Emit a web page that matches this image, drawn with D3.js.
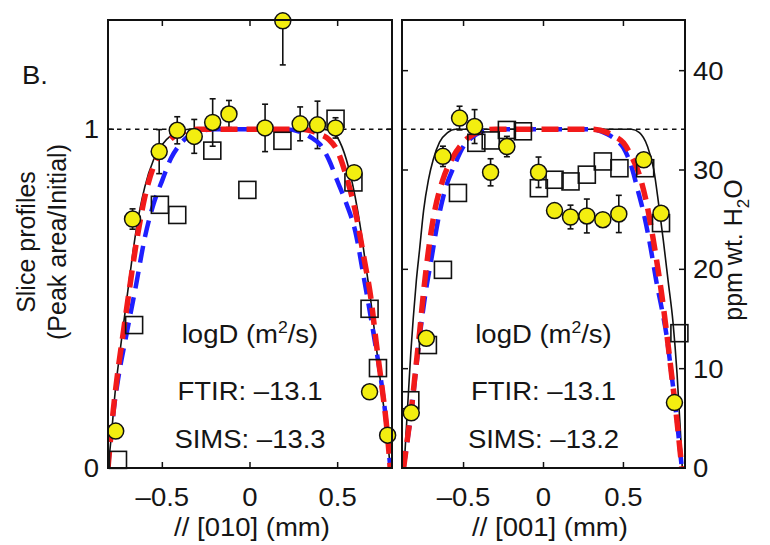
<!DOCTYPE html>
<html>
<head>
<meta charset="utf-8">
<script src="https://cdn.jsdelivr.net/npm/d3@7"></script>
<style>
  body { margin: 0; background: #fff; }
  text { font-family: "Liberation Sans", Arial, Helvetica, sans-serif; fill: #151515; }
</style>
</head>
<body>
<svg id="chart" width="770" height="545"></svg>
<script>
// ---------- tick labels ----------
const xTickValues = [-0.5, 0, 0.5];
const normTickValues = [0, 1];
const ppmTickValues = [0, 10, 20, 30, 40];

// ---------- slice // [010] ----------
const ftirX010 = [-0.766, -0.67, -0.518, -0.415, -0.318, -0.213, -0.12, 0.086, 0.187, 0.286, 0.385, 0.488, 0.594, 0.682, 0.785];
const ftirV010 = [0.109, 0.735, 0.934, 0.997, 0.979, 1.02, 1.045, 1.004, 1.32, 1.016, 1.013, 1.004, 0.872, 0.225, 0.097];
const ftirErr010 = [0, 0.03, 0.065, 0.04, 0.05, 0.07, 0.04, 0.07, 0.13, 0.05, 0.07, 0.03, 0, 0, 0];
const simsX010 = [-0.753, -0.661, -0.514, -0.415, -0.215, -0.015, 0.185, 0.488, 0.59, 0.682, 0.73];
const simsV010 = [0.024, 0.422, 0.777, 0.747, 0.937, 0.821, 0.966, 1.031, 0.843, 0.47, 0.295];

const fitBlackX010 = [-0.81, -0.79, -0.77, -0.745, -0.72, -0.69, -0.65, -0.6, -0.55, -0.5, -0.45, -0.4, -0.35, 0.4, 0.45, 0.5, 0.55, 0.6, 0.63, 0.66, 0.69, 0.72, 0.75, 0.78, 0.80];
const fitBlackV010 = [0, 0.10, 0.22, 0.33, 0.43, 0.55, 0.70, 0.83, 0.91, 0.955, 0.982, 0.995, 1, 1, 0.997, 0.975, 0.91, 0.80, 0.71, 0.60, 0.49, 0.36, 0.23, 0.11, 0];
const fitRedX010 = [-0.81, -0.78, -0.75, -0.72, -0.69, -0.65, -0.6, -0.55, -0.5, -0.45, -0.4, -0.35, -0.3, 0.3, 0.35, 0.4, 0.45, 0.5, 0.55, 0.6, 0.65, 0.69, 0.72, 0.75, 0.78, 0.80];
const fitRedV010 = [0, 0.17, 0.30, 0.41, 0.52, 0.66, 0.80, 0.89, 0.94, 0.972, 0.988, 0.997, 1, 1, 0.995, 0.985, 0.97, 0.935, 0.86, 0.76, 0.62, 0.50, 0.37, 0.25, 0.12, 0];
const fitBlueX010 = [-0.81, -0.78, -0.75, -0.71, -0.65, -0.6, -0.55, -0.5, -0.45, -0.4, -0.35, -0.3, -0.2, 0.2, 0.3, 0.35, 0.4, 0.45, 0.5, 0.55, 0.6, 0.65, 0.71, 0.75, 0.78, 0.80];
const fitBlueV010 = [0, 0.16, 0.27, 0.38, 0.54, 0.68, 0.78, 0.85, 0.915, 0.955, 0.98, 0.993, 1, 1, 0.99, 0.975, 0.955, 0.91, 0.845, 0.78, 0.70, 0.56, 0.38, 0.25, 0.12, 0];

// ---------- slice // [001] ----------
const ftirX001 = [-0.827, -0.733, -0.629, -0.525, -0.431, -0.331, -0.229, -0.031, 0.069, 0.169, 0.271, 0.371, 0.471, 0.627, 0.735, 0.819];
const ftirV001 = [0.163, 0.383, 0.92, 1.033, 1.008, 0.873, 0.949, 0.873, 0.76, 0.741, 0.744, 0.733, 0.75, 0.91, 0.752, 0.193];
const ftirErr001 = [0, 0, 0.03, 0.035, 0.05, 0.04, 0.03, 0.045, 0, 0.035, 0.05, 0, 0.055, 0, 0, 0];
const simsX001 = [-0.833, -0.723, -0.629, -0.535, -0.42, -0.33, -0.229, -0.129, -0.029, 0.069, 0.169, 0.271, 0.371, 0.475, 0.636, 0.735, 0.85];
const simsV001 = [0.2, 0.363, 0.585, 0.812, 0.96, 0.967, 0.998, 0.994, 0.826, 0.851, 0.846, 0.866, 0.905, 0.885, 0.885, 0.723, 0.398];

const fitBlackX001 = [-0.872, -0.86, -0.845, -0.83, -0.815, -0.795, -0.775, -0.75, -0.72, -0.69, -0.65, -0.6, -0.55, 0.55, 0.6, 0.65, 0.69, 0.72, 0.75, 0.78, 0.81, 0.835, 0.855, 0.868];
const fitBlackV001 = [0, 0.10, 0.22, 0.34, 0.44, 0.555, 0.645, 0.76, 0.85, 0.91, 0.962, 0.99, 1, 1, 0.99, 0.95, 0.88, 0.78, 0.67, 0.55, 0.43, 0.28, 0.12, 0];
const fitRedX001 = [-0.875, -0.85, -0.825, -0.8, -0.775, -0.75, -0.72, -0.68, -0.63, -0.57, -0.5, -0.45, -0.4, -0.3, 0.3, 0.4, 0.45, 0.5, 0.55, 0.6, 0.65, 0.7, 0.74, 0.77, 0.8, 0.83, 0.865];
const fitRedV001 = [0, 0.09, 0.18, 0.29, 0.40, 0.52, 0.64, 0.76, 0.85, 0.915, 0.962, 0.982, 0.993, 1, 1, 0.99, 0.978, 0.96, 0.92, 0.865, 0.77, 0.635, 0.51, 0.40, 0.28, 0.16, 0];
const fitBlueX001 = [-0.875, -0.85, -0.825, -0.8, -0.775, -0.74, -0.7, -0.66, -0.61, -0.56, -0.5, -0.45, -0.4, -0.3, 0.3, 0.4, 0.45, 0.5, 0.55, 0.59, 0.63, 0.67, 0.71, 0.74, 0.77, 0.8, 0.83, 0.865];
const fitBlueV001 = [0, 0.085, 0.17, 0.28, 0.385, 0.51, 0.62, 0.73, 0.83, 0.89, 0.95, 0.975, 0.99, 1, 1, 0.985, 0.97, 0.945, 0.89, 0.82, 0.745, 0.65, 0.54, 0.47, 0.39, 0.28, 0.16, 0];

// ---------- annotations ----------
const axisTitles = ["// [010] (mm)", "// [001] (mm)"];
const ftirLogD = ["\u201313.1", "\u201313.1"];
const simsLogD = ["\u201313.3", "\u201313.2"];

// ---------- layout ----------
const svg = d3.select("#chart");
const plotTop = 20, plotBottom = 468;
const ppmMax = 45.1, ppmAtOne = 34.1;
const yNorm = d3.scaleLinear().domain([0, ppmMax / ppmAtOne]).range([plotBottom, plotTop]);
const yPpm = d3.scaleLinear().domain([0, ppmMax]).range([plotBottom, plotTop]);
const textStretch = 1.1;

const panels = [
  { id: "p010", left: 108, right: 392, half: 0.81, title: axisTitles[0], titleX: 252,
    ftir: { x: ftirX010, v: ftirV010, e: ftirErr010 }, sims: { x: simsX010, v: simsV010 },
    fits: [[fitBlackX010, fitBlackV010], [fitRedX010, fitRedV010], [fitBlueX010, fitBlueV010]],
    ftirD: ftirLogD[0], simsD: simsLogD[0], ppmTicks: false },
  { id: "p001", left: 402, right: 685, half: 0.885, title: axisTitles[1], titleX: 550,
    ftir: { x: ftirX001, v: ftirV001, e: ftirErr001 }, sims: { x: simsX001, v: simsV001 },
    fits: [[fitBlackX001, fitBlackV001], [fitRedX001, fitRedV001], [fitBlueX001, fitBlueV001]],
    ftirD: ftirLogD[1], simsD: simsLogD[1], ppmTicks: true }
];

function stretchedText(parent, x, y, anchor, size) {
  return parent.append("text")
    .attr("transform", `translate(${x},${y}) scale(${textStretch},1)`)
    .attr("text-anchor", anchor)
    .style("font-size", size + "px");
}

function tickLabel(t) {
  if (t === 0) return "0";
  return (t < 0 ? "\u2013" : "") + String(Math.abs(t));
}

const defs = svg.append("defs");

panels.forEach(p => {
  const x = d3.scaleLinear().domain([-p.half, p.half]).range([p.left, p.right]);
  const g = svg.append("g");

  defs.append("clipPath").attr("id", "clip-" + p.id)
    .append("rect").attr("x", p.left).attr("y", plotTop)
    .attr("width", p.right - p.left).attr("height", plotBottom - plotTop);

  const clipped = g.append("g").attr("clip-path", `url(#clip-${p.id})`);

  // initial level reference
  clipped.append("line")
    .attr("x1", p.left).attr("x2", p.right)
    .attr("y1", yNorm(1)).attr("y2", yNorm(1))
    .attr("stroke", "#111").attr("stroke-width", 1.6).attr("stroke-dasharray", "4.5,4.5");

  // SIMS profile (open squares)
  const sq = 17;
  g.append("g").selectAll("rect").data(p.sims.x.map((d, i) => [d, p.sims.v[i]])).join("rect")
    .attr("x", d => x(d[0]) - sq / 2).attr("y", d => yNorm(d[1]) - sq / 2)
    .attr("width", sq).attr("height", sq)
    .attr("fill", "none").attr("stroke", "#111").attr("stroke-width", 1.6);

  // FTIR profile error bars
  const ftirData = p.ftir.x.map((d, i) => ({ x: d, v: p.ftir.v[i], e: p.ftir.e[i] }));
  const eb = clipped.append("g").attr("stroke", "#111").attr("stroke-width", 1.6);
  ftirData.filter(d => d.e > 0).forEach(d => {
    const cx = x(d.x), y1 = yNorm(d.v - d.e), y2 = yNorm(d.v + d.e);
    eb.append("line").attr("x1", cx).attr("x2", cx).attr("y1", y1).attr("y2", y2);
    eb.append("line").attr("x1", cx - 3).attr("x2", cx + 3).attr("y1", y1).attr("y2", y1);
    eb.append("line").attr("x1", cx - 3).attr("x2", cx + 3).attr("y1", y2).attr("y2", y2);
  });

  // FTIR profile markers
  g.append("g").selectAll("circle").data(ftirData).join("circle")
    .attr("cx", d => x(d.x)).attr("cy", d => yNorm(d.v)).attr("r", 8)
    .attr("fill", "#f3ee10").attr("stroke", "#111").attr("stroke-width", 1.5);

  // diffusion fits
  const line = d3.line().x(d => x(d[0])).y(d => yNorm(d[1])).curve(d3.curveMonotoneX);
  const styles = [
    { stroke: "#111", width: 1.6, dash: null },
    { stroke: "#1f1fff", width: 4.5, dash: "17,9" },
    { stroke: "#f21a1a", width: 5.5, dash: "17,9" }
  ];
  // draw order: black, blue, red
  [[0, 0], [2, 1], [1, 2]].forEach(([fi, si]) => {
    const f = p.fits[fi], s = styles[si];
    clipped.append("path")
      .attr("d", line(f[0].map((d, i) => [d, f[1][i]])))
      .attr("fill", "none").attr("stroke", s.stroke).attr("stroke-width", s.width)
      .attr("stroke-dasharray", s.dash);
  });

  // frame
  g.append("rect").attr("x", p.left).attr("y", plotTop)
    .attr("width", p.right - p.left).attr("height", plotBottom - plotTop)
    .attr("fill", "none").attr("stroke", "#111").attr("stroke-width", 2);

  // x ticks (inward, top and bottom)
  const tk = 6;
  xTickValues.forEach(t => {
    g.append("line").attr("x1", x(t)).attr("x2", x(t)).attr("y1", plotBottom).attr("y2", plotBottom - tk)
      .attr("stroke", "#111").attr("stroke-width", 1.5);
    g.append("line").attr("x1", x(t)).attr("x2", x(t)).attr("y1", plotTop).attr("y2", plotTop + tk)
      .attr("stroke", "#111").attr("stroke-width", 1.5);
    stretchedText(g, x(t), 506, "middle", 25).text(tickLabel(t));
  });

  // y ticks
  const yt = p.ppmTicks ? ppmTickValues.map(yPpm) : normTickValues.map(yNorm);
  yt.forEach(yy => {
    g.append("line").attr("x1", p.left).attr("x2", p.left + tk).attr("y1", yy).attr("y2", yy)
      .attr("stroke", "#111").attr("stroke-width", 1.5);
    g.append("line").attr("x1", p.right).attr("x2", p.right - tk).attr("y1", yy).attr("y2", yy)
      .attr("stroke", "#111").attr("stroke-width", 1.5);
  });

  // x-axis title
  stretchedText(g, p.titleX, 536, "middle", 25).text(p.title);

  // annotation block
  const cx = x(0);
  const t1 = stretchedText(g, cx, 343, "middle", 25);
  t1.append("tspan").text("logD (m");
  t1.append("tspan").attr("dy", -10).style("font-size", "16px").text("2");
  t1.append("tspan").attr("dy", 10).text("/s)");
  stretchedText(g, cx, 400, "middle", 25).text("FTIR: " + p.ftirD);
  stretchedText(g, cx, 448, "middle", 25).text("SIMS: " + p.simsD);
});

// left axis labels (normalised)
normTickValues.forEach(t => {
  stretchedText(svg, 99, yNorm(t) + 9, "end", 25).text(String(t));
});
// right axis labels (ppm)
ppmTickValues.forEach(t => {
  stretchedText(svg, 693, yPpm(t) + 9, "start", 25).text(String(t));
});

// panel letter
stretchedText(svg, 22, 84, "start", 25).text("B.");

// y-axis titles
svg.append("text").attr("transform", "translate(35,242) rotate(-90)")
  .attr("text-anchor", "middle").style("font-size", "25px").text("Slice profiles");
svg.append("text").attr("transform", "translate(66,242) rotate(-90)")
  .attr("text-anchor", "middle").style("font-size", "25px").text("(Peak area/Initial)");

const rt = svg.append("text").attr("transform", "translate(742,250) rotate(-90)")
  .attr("text-anchor", "middle").style("font-size", "25px");
rt.append("tspan").text("ppm wt. H");
rt.append("tspan").attr("dy", 7).style("font-size", "17px").text("2");
rt.append("tspan").attr("dy", -7).text("O");
</script>
</body>
</html>
